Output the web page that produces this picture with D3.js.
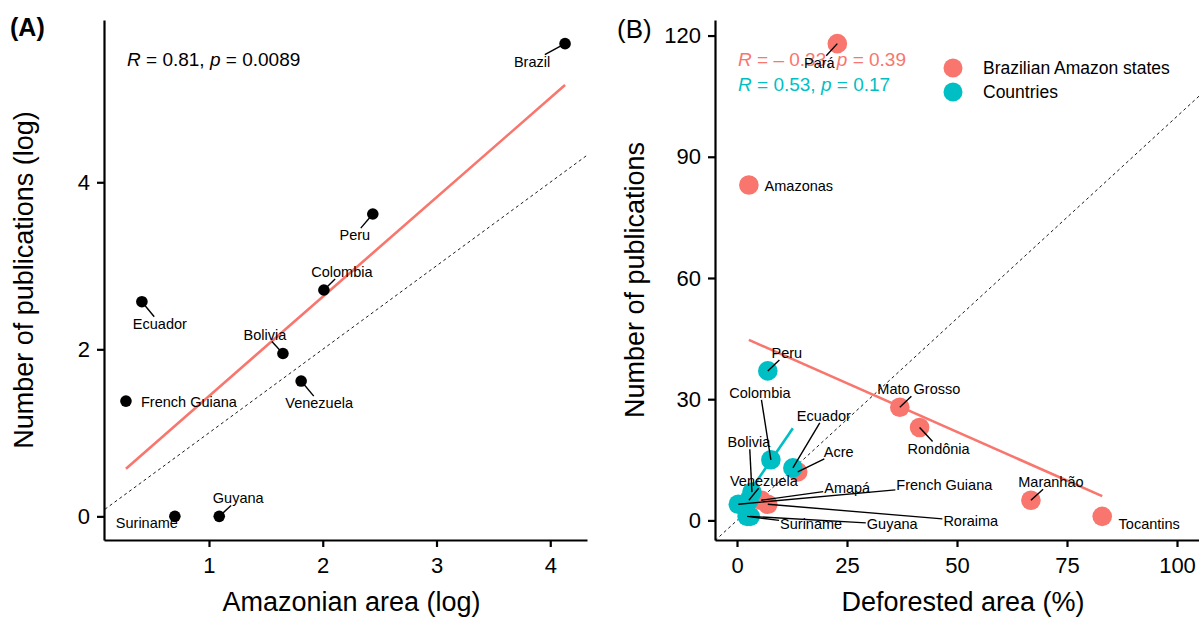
<!DOCTYPE html>
<html>
<head>
<meta charset="utf-8">
<script src="https://cdn.jsdelivr.net/npm/d3@7"></script>
<style>
  body { margin: 0; background: #fff; }
  svg text { font-family: "Liberation Sans", Arial, sans-serif; fill: #000; }
</style>
</head>
<body>
<svg id="chart" width="1199" height="620"></svg>
<script>
// (A) countries, log scales
const countriesA = ['Brazil', 'Peru', 'Colombia', 'Ecuador', 'Bolivia', 'Venezuela', 'French Guiana', 'Guyana', 'Suriname'];
const areaLog = [4.13, 2.44, 2.01, 0.41, 1.65, 1.81, 0.27, 1.09, 0.70];
const pubsLog = [5.66, 3.62, 2.71, 2.57, 1.95, 1.62, 1.38, 0, 0];

// (B) states and countries, deforested area vs publications
const states = ['Pará', 'Amazonas', 'Mato Grosso', 'Rondônia', 'Acre', 'Amapá', 'Roraima', 'Maranhão', 'Tocantins'];
const statesDeforest = [22.8, 2.7, 37, 41.5, 13.8, 5.5, 7, 66.8, 83];
const statesPubs = [118, 83, 28, 23, 12, 5, 4, 5, 1];
const countriesB = ['Peru', 'Colombia', 'Ecuador', 'Bolivia', 'Venezuela', 'French Guiana', 'Suriname', 'Guyana'];
const countriesDeforest = [7, 7.7, 12.7, 3.4, 2.7, 0.3, 2.3, 3];
const countriesPubs = [37, 15, 13, 7, 5, 4, 1, 1];

const ticksAx = [1, 2, 3, 4];
const ticksAy = [0, 2, 4];
const ticksBx = [0, 25, 50, 75, 100];
const ticksBy = [0, 30, 60, 90, 120];

const statsA = { r: '0.81', p: '0.0089' };
const statsStates = { r: '– 0.33', p: '0.39' };
const statsCountries = { r: '0.53', p: '0.17' };
const legendLabels = ['Brazilian Amazon states', 'Countries'];

const RED = '#F8766D', TEAL = '#00BFC4';

// repel label placement: [dx, dy, segment] relative to the point, in px
const labA = {
    'Brazil': [-33, 18, true], 'Peru': [-18, 21, true], 'Colombia': [18, -18, true],
    'Ecuador': [18, 22, true], 'Bolivia': [-18, -19, true], 'Venezuela': [18, 22, true],
    'French Guiana': [63, 1, false], 'Guyana': [19, -18, true], 'Suriname': [-28, 7, false]
};
const labStates = {
    'Pará': [-18, 19, true], 'Amazonas': [50, 1, false], 'Mato Grosso': [19, -18, true],
    'Rondônia': [19, 21, true], 'Acre': [41, -20, true], 'Amapá': [86, -12, true],
    'Roraima': [203, 17, true], 'Maranhão': [20, -18, true], 'Tocantins': [47, 8, false]
};
const labCountries = {
    'Peru': [19, -18, true], 'Colombia': [-11, -67, true], 'Ecuador': [31, -52, true],
    'Bolivia': [-3, -50, true], 'Venezuela': [15, -19, true], 'French Guiana': [206, -19, true],
    'Suriname': [64, 8, true], 'Guyana': [142, 8, true]
};

const svg = d3.select('#chart');

// least squares fit, drawn over the data range like geom_smooth(method = "lm")
function lmLine(xs, ys) {
    const mx = d3.mean(xs), my = d3.mean(ys);
    const sxy = d3.sum(xs, (x, i) => (x - mx) * (ys[i] - my));
    const sxx = d3.sum(xs, x => (x - mx) * (x - mx));
    const b = sxy / sxx, a = my - b * mx;
    const [x0, x1] = d3.extent(xs);
    return [[x0, a + b * x0], [x1, a + b * x1]];
}

function drawAxes(g, x, y, xt, yt, h) {
    const ax = g.append('g').attr('transform', `translate(0,${h})`)
        .call(d3.axisBottom(x).tickValues(xt).tickFormat(d3.format('d'))
            .tickSize(7).tickSizeOuter(0).tickPadding(10));
    const ay = g.append('g')
        .call(d3.axisLeft(y).tickValues(yt).tickFormat(d3.format('d'))
            .tickSize(7).tickSizeOuter(0).tickPadding(7));
    [ax, ay].forEach(a => {
        a.attr('font-size', null).attr('font-family', null);
        a.select('.domain').attr('stroke', '#000').attr('stroke-width', 2.2);
        a.selectAll('.tick line').attr('stroke', '#000').attr('stroke-width', 2.2);
        a.selectAll('.tick text').style('font-size', '22px').attr('fill', '#000');
    });
}

function statText(g, x, y, s, color) {
    const t = g.append('text').attr('x', x).attr('y', y)
        .style('font-size', '19px').style('fill', color);
    t.append('tspan').style('font-style', 'italic').text('R');
    t.append('tspan').text(` = ${s.r}, `);
    t.append('tspan').style('font-style', 'italic').text('p');
    t.append('tspan').text(` = ${s.p}`);
}

// labels with segments from the point to the label box
function repel(gSeg, gTxt, pts, offsets) {
    pts.forEach(p => {
        const [dx, dy, seg] = offsets[p.name];
        const t = gTxt.append('text')
            .attr('x', p.px + dx).attr('y', p.py + dy).attr('dy', '0.35em')
            .attr('text-anchor', 'middle')
            .style('font-size', '14.5px')
            .text(p.name);
        if (!seg) return;
        const b = t.node().getBBox();
        const cx = b.x + b.width / 2, cy = b.y + b.height / 2;
        const hw = b.width / 2 + 1, hh = b.height / 2 - 1;
        const vx = p.px - cx, vy = p.py - cy;
        const k = Math.min(vx ? hw / Math.abs(vx) : Infinity, vy ? hh / Math.abs(vy) : Infinity);
        gSeg.append('line')
            .attr('x1', p.px).attr('y1', p.py)
            .attr('x2', cx + vx * k).attr('y2', cy + vy * k)
            .attr('stroke', '#000').attr('stroke-width', 1.4);
    });
}

// ---------------- panel A ----------------
{
    const left = 104, top = 20, w = 483, h = 520;
    const g = svg.append('g').attr('transform', `translate(${left},${top})`);
    const x = d3.scaleLinear().domain([0.077, 4.323]).range([0, w]);
    const y = d3.scaleLinear().domain([-0.283, 5.943]).range([h, 0]);

    g.append('clipPath').attr('id', 'clipA').append('rect').attr('width', w).attr('height', h);

    // 1:1 reference line
    g.append('line').attr('clip-path', 'url(#clipA)')
        .attr('x1', x(0)).attr('y1', y(0)).attr('x2', x(6)).attr('y2', y(6))
        .attr('stroke', '#000').attr('stroke-width', 0.9).attr('stroke-dasharray', '3,3');

    const fit = lmLine(areaLog, pubsLog);
    g.append('path').attr('d', d3.line().x(d => x(d[0])).y(d => y(d[1]))(fit))
        .attr('stroke', RED).attr('stroke-width', 2.6).attr('fill', 'none');

    const pts = countriesA.map((n, i) => ({ name: n, px: x(areaLog[i]), py: y(pubsLog[i]) }));
    g.selectAll('circle.pt').data(pts).enter().append('circle')
        .attr('cx', d => d.px).attr('cy', d => d.py).attr('r', 5.8).attr('fill', '#000');

    const gSeg = g.append('g'), gTxt = g.append('g');
    repel(gSeg, gTxt, pts, labA);

    statText(g, 23, 46, statsA, '#000');
    drawAxes(g, x, y, ticksAx, ticksAy, h);

    g.append('text').attr('x', w / 2 + 6).attr('y', 591).attr('text-anchor', 'middle')
        .style('font-size', '27px').text('Amazonian area (log)');
    g.append('text').attr('transform', `translate(${-71},${h / 2}) rotate(-90)`)
        .attr('text-anchor', 'middle').style('font-size', '27px')
        .text('Number of publications (log)');

    svg.append('text').attr('x', 10).attr('y', 36)
        .style('font-size', '25px').style('font-weight', 'bold').text('(A)');
}

// ---------------- panel B ----------------
{
    const left = 715, top = 20, w = 484, h = 520;
    const g = svg.append('g').attr('transform', `translate(${left},${top})`);
    const x = d3.scaleLinear().domain([-5, 105]).range([0, w]);
    const y = d3.scaleLinear().domain([-4.85, 123.85]).range([h, 0]);

    g.append('clipPath').attr('id', 'clipB').append('rect').attr('width', w).attr('height', h);

    g.append('line').attr('clip-path', 'url(#clipB)')
        .attr('x1', x(-10)).attr('y1', y(-10)).attr('x2', x(130)).attr('y2', y(130))
        .attr('stroke', '#000').attr('stroke-width', 0.9).attr('stroke-dasharray', '3,3');

    const line = d3.line().x(d => x(d[0])).y(d => y(d[1]));
    g.append('path').attr('d', line(lmLine(statesDeforest, statesPubs)))
        .attr('stroke', RED).attr('stroke-width', 2.6).attr('fill', 'none');
    g.append('path').attr('d', line(lmLine(countriesDeforest, countriesPubs)))
        .attr('stroke', TEAL).attr('stroke-width', 2.6).attr('fill', 'none');

    const sPts = states.map((n, i) => ({ name: n, px: x(statesDeforest[i]), py: y(statesPubs[i]) }));
    const cPts = countriesB.map((n, i) => ({ name: n, px: x(countriesDeforest[i]), py: y(countriesPubs[i]) }));

    g.selectAll('circle.st').data(sPts).enter().append('circle')
        .attr('cx', d => d.px).attr('cy', d => d.py).attr('r', 9.8).attr('fill', RED);
    g.selectAll('circle.co').data(cPts).enter().append('circle')
        .attr('cx', d => d.px).attr('cy', d => d.py).attr('r', 9.8).attr('fill', TEAL);

    statText(g, 23, 46, statsStates, RED);
    statText(g, 23, 71, statsCountries, TEAL);

    const gSeg = g.append('g'), gTxt = g.append('g');
    repel(gSeg, gTxt, sPts, labStates);
    repel(gSeg, gTxt, cPts, labCountries);

    drawAxes(g, x, y, ticksBx, ticksBy, h);

    // legend
    const leg = g.append('g').attr('transform', 'translate(238,48)');
    legendLabels.forEach((lab, i) => {
        leg.append('circle').attr('cx', 0).attr('cy', i * 24).attr('r', 9.5)
            .attr('fill', i === 0 ? RED : TEAL);
        leg.append('text').attr('x', 30).attr('y', i * 24).attr('dy', '0.35em')
            .style('font-size', '17.5px').text(lab);
    });

    g.append('text').attr('x', w / 2 + 6).attr('y', 591).attr('text-anchor', 'middle')
        .style('font-size', '27px').text('Deforested area (%)');
    g.append('text').attr('transform', `translate(${-71},${h / 2}) rotate(-90)`)
        .attr('text-anchor', 'middle').style('font-size', '27px')
        .text('Number of publications');

    svg.append('text').attr('x', 617).attr('y', 38)
        .style('font-size', '26px').text('(B)');
}
</script>
</body>
</html>
